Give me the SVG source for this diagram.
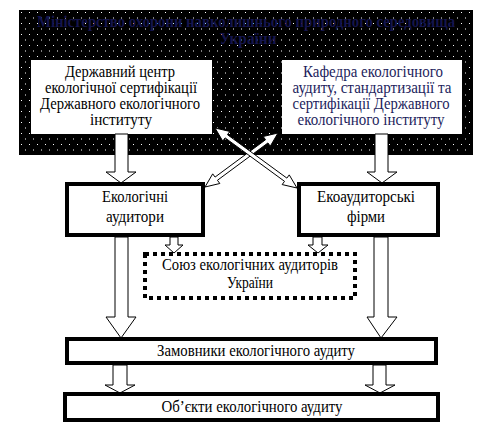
<svg xmlns="http://www.w3.org/2000/svg" width="493" height="429" viewBox="0 0 493 429">
<defs>
<pattern id="dots" x="19" y="10" width="8" height="11" patternUnits="userSpaceOnUse">
<rect width="8" height="11" fill="#000"/>
<rect x="2" y="2" width="1" height="1" fill="#fff"/>
<rect x="6" y="7.5" width="1" height="1" fill="#fff"/>
</pattern>
</defs>
<style>
text{font-family:"Liberation Serif","Times New Roman",serif;font-size:16px;text-anchor:middle;fill:#000}
.title{fill:#15154d;font-weight:bold}
.navy{fill:#1c1d5c}
.blk{fill:#fff;stroke:#000;stroke-width:1}
.box{fill:#fff;stroke:#000;stroke-width:4}
.dot{fill:#fff;stroke:#000;stroke-width:4;stroke-dasharray:4 4}
.cross{fill:#fff;stroke:#000;stroke-width:1;stroke-linejoin:miter}
</style>
<rect width="493" height="429" fill="#fff"/>
<g id="ministry">
<rect x="19" y="10" width="454" height="145" fill="url(#dots)"/>
<text class="title" x="246" y="27" textLength="418" lengthAdjust="spacingAndGlyphs">Міністерство охорони навколишнього природного середовища</text>
<text class="title" x="248" y="44" textLength="57" lengthAdjust="spacingAndGlyphs">України</text>
</g>
<g id="center">
<rect x="31" y="60" width="181" height="74" fill="#fff"/>
<text x="120" y="77" textLength="110" lengthAdjust="spacingAndGlyphs">Державний центр</text>
<text x="121" y="93" textLength="152" lengthAdjust="spacingAndGlyphs">екологічної сертифікації</text>
<text x="120" y="109" textLength="160" lengthAdjust="spacingAndGlyphs">Державного екологічного</text>
<text x="121" y="125" textLength="62" lengthAdjust="spacingAndGlyphs">інституту</text>
</g>
<g id="department">
<rect x="282" y="60" width="180" height="74" fill="#fff"/>
<text class="navy" x="373" y="77" textLength="140" lengthAdjust="spacingAndGlyphs">Кафедра екологічного</text>
<text class="navy" x="372" y="93" textLength="159" lengthAdjust="spacingAndGlyphs">аудиту, стандартизації та</text>
<text class="navy" x="371" y="109" textLength="157" lengthAdjust="spacingAndGlyphs">сертифікації Державного</text>
<text class="navy" x="371" y="125" textLength="147" lengthAdjust="spacingAndGlyphs">екологічного інституту</text>
</g>
<g id="connectors">
<polygon class="blk" points="115,134 128,134 128,172 136,172 121,183 106,172 115,172"/>
<polygon class="blk" points="375,134 388,134 388,172 397,172 382,183 367,172 375,172"/>
<polygon class="blk" points="170,237 178,237 178,245 183,245 174,253 165,245 170,245"/>
<polygon class="blk" points="313,237 322,237 322,245 328,245 318,253 308,245 313,245"/>
<polygon class="blk" points="115,237 128,237 128,317 136,317 121,338 106,317 115,317"/>
<polygon class="blk" points="374,237 388,237 388,317 397,317 381,338 367,317 374,317"/>
<polygon class="blk" points="113,365 127,365 127,385 135,385 120,393 105,385 113,385"/>
<polygon class="blk" points="373,365 386,365 386,385 395,385 380,393 365,385 373,385"/>
<polygon class="cross" points="278,133 263.18,136.50 265.56,139.72 215.07,177.07 212.69,173.85 205,187 219.82,183.50 217.45,180.28 267.93,142.94 270.31,146.15"/>
<polygon class="cross" points="215,128 229.84,131.43 227.48,134.66 286.88,178.12 289.24,174.89 297,188 282.16,184.57 284.52,181.34 225.12,137.88 222.76,141.11"/>
</g>
<g id="auditors">
<rect class="box" x="67" y="184" width="136" height="51"/>
<text x="135" y="202" textLength="66" lengthAdjust="spacingAndGlyphs">Екологічні</text>
<text x="135" y="222" textLength="58" lengthAdjust="spacingAndGlyphs">аудитори</text>
</g>
<g id="firms">
<rect class="box" x="299" y="184" width="139" height="51"/>
<text x="366" y="202" textLength="98" lengthAdjust="spacingAndGlyphs">Екоаудиторські</text>
<text x="366" y="222" textLength="38" lengthAdjust="spacingAndGlyphs">фірми</text>
</g>
<g id="union">
<rect class="dot" x="145" y="254" width="210" height="44"/>
<text x="250" y="270" textLength="176" lengthAdjust="spacingAndGlyphs">Союз екологічних аудиторів</text>
<text x="250" y="288" textLength="46" lengthAdjust="spacingAndGlyphs">України</text>
</g>
<g id="customers">
<rect class="box" x="67" y="339" width="369" height="24"/>
<text x="256" y="356" textLength="198" lengthAdjust="spacingAndGlyphs">Замовники екологічного аудиту</text>
</g>
<g id="objects">
<rect class="box" x="65" y="394" width="373" height="26"/>
<text x="252" y="412" textLength="181" lengthAdjust="spacingAndGlyphs">Об’єкти екологічного аудиту</text>
</g>
</svg>
